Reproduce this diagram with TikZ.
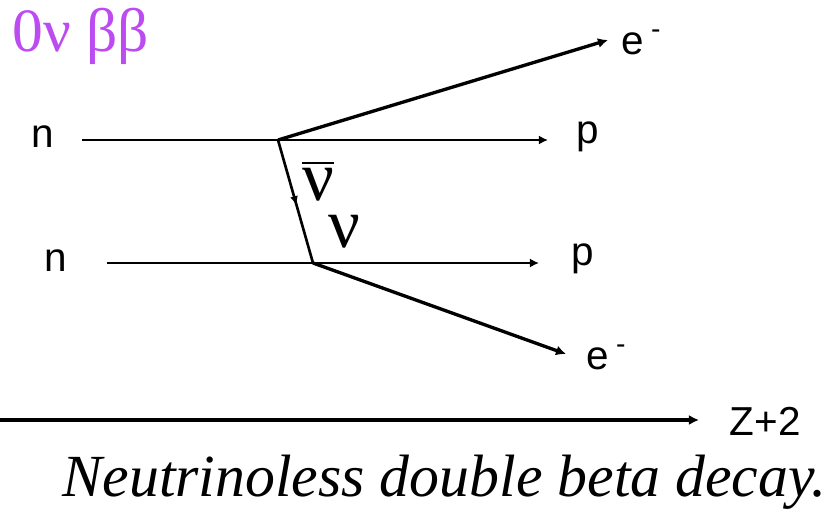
\documentclass[tikz,border=0pt]{standalone}
\usepackage{fontspec}
\setmainfont{Liberation Serif}
\setsansfont{Liberation Sans}
\usetikzlibrary{arrows.meta,positioning,calc,decorations.markings}
\definecolor{titlepurple}{RGB}{188,76,242}

\begin{document}
\begin{tikzpicture}[x=0.01cm, y=-0.01cm,
    nucleon/.style={line width=0.6pt, -{Latex[length=0.9mm,width=0.9mm]}},
    lepton/.style={line width=0.95pt, -{Latex[length=1mm,width=1mm]}},
    nuline/.style={line width=0.75pt, decoration={markings,
        mark=at position 0.53 with {\arrow{Latex[length=0.9mm,width=0.8mm]}}},
        postaction={decorate}},
    particle/.style={font=\sffamily\fontsize{11.5}{14}\selectfont, inner sep=0pt, anchor=base},
    nulabel/.style={font=\fontsize{20}{22}\selectfont, inner sep=0pt, anchor=base}]
    \useasboundingbox (0,0) rectangle (835,524);

    % Title
    \node[font=\fontsize{17.5}{20}\selectfont, text=titlepurple, inner sep=0pt,
          anchor=base west] (title) at (12,51) {0ν ββ};

    % Vertices and line ends
    \coordinate (v1) at (278,140);
    \coordinate (v2) at (313,263);
    \coordinate (n1s) at (82,140);
    \coordinate (p1e) at (548,140);
    \coordinate (n2s) at (107,263);
    \coordinate (p2e) at (539,263);
    \coordinate (e1e) at (608,40);
    \coordinate (e2e) at (566,354);
    \coordinate (zs) at (0,420);
    \coordinate (ze) at (699,420);

    % Nucleon lines
    \draw[nucleon] (n1s) -- (p1e);
    \draw[nucleon] (n2s) -- (p2e);

    % Electrons
    \draw[lepton] (v1) -- (e1e);
    \draw[lepton] (v2) -- (e2e);

    % Exchanged neutrino
    \draw[nuline] (v1) -- (v2);

    % Nucleus
    \draw[lepton] (zs) -- (ze);

    % Labels
    \node[particle] (n1) at (43,147) {n};
    \node[particle] (n2) at (56,271) {n};
    \node[particle] (p1) at (588,143) {p};
    \node[particle] (p2) at (583,265) {p};
    \node[particle] (e1) at (642,54) {e\,\textsuperscript{-}};
    \node[particle] (e2) at (607,369) {e\,\textsuperscript{-}};
    \node[particle, anchor=base west] (z) at (729,435) {Z+2};
    \node[nulabel] (nubar) at (318,200) {$\overline{\hbox{ν}}$};
    \node[nulabel] (nu) at (344,247) {ν};

    % Caption
    \node[font=\itshape\fontsize{17}{20}\selectfont, inner sep=0pt,
          anchor=base west] (caption) at (62,496) {Neutrinoless double beta decay.};
\end{tikzpicture}
\end{document}
